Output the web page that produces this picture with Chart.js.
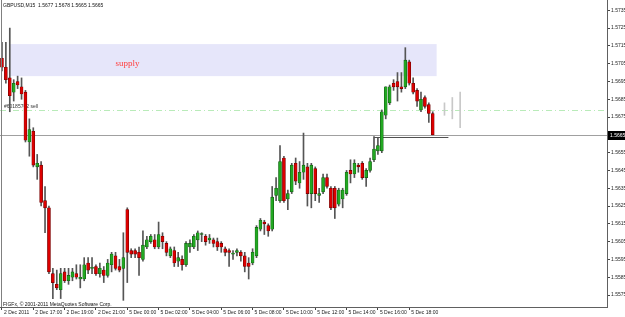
<!DOCTYPE html>
<html><head><meta charset="utf-8">
<script src="https://cdn.jsdelivr.net/npm/chart.js@4/dist/chart.umd.min.js"></script>
<style>html,body{margin:0;padding:0;background:#fff;overflow:hidden}canvas{display:block}</style>
</head><body>
<canvas id="c" width="625" height="317"></canvas>
<script>
// ---- data (GBPUSD M15) ----
const headerText = "GBPUSD,M15  1.5677 1.5678 1.5665 1.5665";
const footerText = "FIGFx, \u00a9 2001-2011 MetaQuotes Software Corp.";
const opens = [1.5708,1.5703,1.5697,1.5689,1.5695,1.5692,1.5689,1.5661,1.5667,1.5647,
1.5648,1.5628,1.5624,1.5587,1.5581,1.5578,1.5588,1.5583,1.5585,1.5587,
1.5584,1.5584,1.5593,1.5590,1.5591,1.5587,1.5589,1.5586,1.5592,1.5597,
1.5591,1.5590,1.5623,1.5600,1.5600,1.5599,1.5595,1.5602,1.5605,1.5606,
1.5602,1.5608,1.5604,1.5597,1.5600,1.5594,1.5595,1.5592,1.5602,1.5602,
1.5606,1.5609,1.5608,1.5606,1.5606,1.5605,1.5604,1.5601,1.5600,1.5598,
1.5599,1.5599,1.5597,1.5593,1.5593,1.5597,1.5612,1.5616,1.5614,1.5612,
1.5631,1.5628,1.5652,1.5629,1.5633,1.5649,1.5638,1.5644,1.5647,1.5632,
1.5646,1.5631,1.5633,1.5641,1.5635,1.5635,1.5626,1.5629,1.5632,1.5645,
1.5643,1.5648,1.5649,1.5641,1.5645,1.5651,1.5656,1.5656,1.5676,1.5683,
1.5694,1.5695,1.5692,1.5692,1.5706,1.5694,1.5690,1.5679,1.5686,1.5682,1.5677];
const highs = [1.5717,1.5717,1.5725,1.5696,1.5698,1.5697,1.5690,1.5674,1.5669,1.5654,
1.5650,1.5636,1.5625,1.5590,1.5589,1.5590,1.5590,1.5590,1.5590,1.5592,
1.5592,1.5596,1.5596,1.5596,1.5592,1.5593,1.5591,1.5595,1.5599,1.5599,
1.5595,1.5610,1.5624,1.5601,1.5601,1.5602,1.5611,1.5608,1.5609,1.5609,
1.5616,1.5610,1.5605,1.5602,1.5602,1.5599,1.5597,1.5605,1.5606,1.5609,
1.5611,1.5610,1.5609,1.5609,1.5607,1.5607,1.5605,1.5602,1.5601,1.5600,
1.5601,1.5600,1.5599,1.5596,1.5601,1.5614,1.5618,1.5617,1.5615,1.5636,
1.5641,1.5659,1.5653,1.5634,1.5649,1.5652,1.5650,1.5666,1.5649,1.5649,
1.5647,1.5635,1.5643,1.5643,1.5636,1.5636,1.5635,1.5635,1.5645,1.5651,
1.5651,1.5649,1.5650,1.5646,1.5652,1.5664,1.5663,1.5679,1.5692,1.5693,
1.5696,1.5700,1.5700,1.5714,1.5707,1.5697,1.5691,1.5689,1.5687,1.5683,1.5678];
const lows = [1.5701,1.5694,1.5678,1.5684,1.5691,1.5685,1.5661,1.5653,1.5647,1.5640,
1.5625,1.5610,1.5587,1.5573,1.5578,1.5573,1.5582,1.5581,1.5583,1.5584,
1.5579,1.5583,1.5587,1.5587,1.5586,1.5585,1.5582,1.5585,1.5588,1.5589,
1.5588,1.5572,1.5582,1.5596,1.5596,1.5586,1.5594,1.5601,1.5604,1.5601,
1.5601,1.5601,1.5597,1.5596,1.5591,1.5591,1.5589,1.5591,1.5599,1.5601,
1.5600,1.5605,1.5603,1.5604,1.5602,1.5600,1.5599,1.5597,1.5591,1.5595,
1.5597,1.5594,1.5588,1.5584,1.5592,1.5596,1.5611,1.5609,1.5608,1.5611,
1.5628,1.5627,1.5627,1.5623,1.5632,1.5637,1.5635,1.5640,1.5625,1.5624,
1.5628,1.5627,1.5632,1.5635,1.5623,1.5618,1.5625,1.5624,1.5631,1.5638,
1.5641,1.5644,1.5640,1.5636,1.5644,1.5650,1.5654,1.5655,1.5674,1.5682,
1.5690,1.5684,1.5689,1.5691,1.5693,1.5688,1.5681,1.5678,1.5680,1.5672,1.5665];
const closes = [1.5703,1.5696,1.5687,1.5694,1.5693,1.5688,1.5662,1.5668,1.5648,1.5649,
1.5627,1.5624,1.5588,1.5582,1.5579,1.5587,1.5583,1.5586,1.5588,1.5585,
1.5585,1.5592,1.5589,1.5590,1.5587,1.5590,1.5586,1.5593,1.5598,1.5590,
1.5589,1.5596,1.5599,1.5598,1.5598,1.5596,1.5603,1.5606,1.5608,1.5602,
1.5609,1.5605,1.5599,1.5601,1.5593,1.5596,1.5592,1.5604,1.5604,1.5608,
1.5610,1.5609,1.5605,1.5607,1.5604,1.5602,1.5602,1.5599,1.5599,1.5598,
1.5600,1.5597,1.5591,1.5591,1.5599,1.5613,1.5617,1.5615,1.5611,1.5630,
1.5635,1.5650,1.5628,1.5632,1.5648,1.5639,1.5644,1.5648,1.5632,1.5648,
1.5632,1.5632,1.5641,1.5636,1.5624,1.5624,1.5634,1.5634,1.5644,1.5643,
1.5649,1.5647,1.5641,1.5645,1.5650,1.5657,1.5659,1.5678,1.5692,1.5692,
1.5692,1.5692,1.5691,1.5707,1.5694,1.5689,1.5684,1.5685,1.5681,1.5677,1.5665];
// light grey marks to the right of the last bar
const extraBarIndex = [113, 115, 117];
const extraBarLow  = [1.5676, 1.5674, 1.5669];
const extraBarHigh = [1.5683, 1.5686, 1.5689];
// axis labels
const tickLabels = ["2 Dec 2011","2 Dec 17:00","2 Dec 19:00","2 Dec 21:00","5 Dec 00:00","5 Dec 02:00",
  "5 Dec 04:00","5 Dec 06:00","5 Dec 08:00","5 Dec 10:00","5 Dec 12:00","5 Dec 14:00","5 Dec 16:00","5 Dec 18:00"];
const tickBars = [0,8,16,24,32,40,48,56,64,72,80,88,96,104];
const priceTicks = [1.5735,1.5725,1.5715,1.5705,1.5695,1.5685,1.5675,1.5665,1.5655,1.5645,1.5635,1.5625,1.5615,1.5605,1.5595,1.5585,1.5575];
// drawn objects
const supplyZone = {from: 2, to: 111, low: 1.5698, high: 1.5716, label: "supply"};
const sellLevel = {price: 1.5679, label: "#60185762 sell"};
const bidPrice = 1.5665;
const demandLine = {from: 95, to: 114, price: 1.5664};
const totalSlots = 155;

// ---- build chart ----
const cats = Array.from({length: totalSlots}, (_, i) => i);
const pad = a => { const r = a.slice(); while (r.length < totalSlots) r.push(null); return r; };
const wickData = pad(highs.map((h, i) => [lows[i], h]));
const bodyData = pad(opens.map((o, i) => [o, closes[i]]));
const isUp = opens.map((o, i) => closes[i] >= o);
const bodyColors = pad(isUp.map(u => u ? '#22a822' : '#dc0000'));
const bodyBorders = pad(isUp.map(u => u ? '#125a12' : '#6a0000'));
const extraData = new Array(totalSlots).fill(null);
extraBarIndex.forEach((ix, k) => { extraData[ix] = [extraBarLow[k], extraBarHigh[k]]; });
const tickMap = {}; tickBars.forEach((b, k) => tickMap[b] = tickLabels[k]);

const overlay = {
  id: 'mt4overlay',
  beforeDatasetsDraw(chart) {
    const {ctx, chartArea: a, scales: {x, y}} = chart;
    ctx.save();
    const x0 = x.getPixelForValue(supplyZone.from), x1 = x.getPixelForValue(supplyZone.to);
    const y0 = y.getPixelForValue(supplyZone.high), y1 = y.getPixelForValue(supplyZone.low);
    ctx.fillStyle = '#e6e6fa';
    ctx.fillRect(x0, y0, x1 - x0, y1 - y0);
    const ys = Math.round(y.getPixelForValue(sellLevel.price)) + 0.5;
    ctx.strokeStyle = '#b9ebb9'; ctx.lineWidth = 1; ctx.setLineDash([6,3,1,3]);
    ctx.beginPath(); ctx.moveTo(a.left, ys); ctx.lineTo(a.right, ys); ctx.stroke();
    ctx.setLineDash([]);
    const yb = Math.round(y.getPixelForValue(bidPrice)) + 0.5;
    ctx.strokeStyle = '#a0a0a0';
    ctx.beginPath(); ctx.moveTo(a.left, yb); ctx.lineTo(a.right, yb); ctx.stroke();
    const yd = Math.round(y.getPixelForValue(demandLine.price)) + 0.5;
    ctx.strokeStyle = '#505050';
    ctx.beginPath(); ctx.moveTo(x.getPixelForValue(demandLine.from), yd); ctx.lineTo(x.getPixelForValue(demandLine.to), yd); ctx.stroke();
    ctx.fillStyle = '#333'; ctx.font = '5px "Liberation Sans"'; ctx.textBaseline = 'bottom';
    ctx.fillText(sellLevel.label, a.left + 4, ys - 1);
    ctx.restore();
  },
  afterDraw(chart) {
    const {ctx, chartArea: a, scales: {x, y}} = chart;
    ctx.save();
    ctx.strokeStyle = '#808080'; ctx.lineWidth = 1;
    ctx.beginPath(); ctx.moveTo(1.5, a.top); ctx.lineTo(1.5, a.bottom); ctx.stroke();
    ctx.fillStyle = '#ff4040'; ctx.font = '9px "Liberation Serif"'; ctx.textBaseline = 'middle';
    ctx.fillText(supplyZone.label, x.getPixelForValue(29), y.getPixelForValue(1.5705));
    ctx.fillStyle = '#111'; ctx.font = '5px "Liberation Sans"'; ctx.textBaseline = 'top';
    ctx.fillText(headerText, 3, 3);
    ctx.fillText(footerText, 3, 302);
    const yb = y.getPixelForValue(bidPrice);
    ctx.fillStyle = '#000'; ctx.fillRect(a.right + 1, Math.round(yb) - 4, 18, 9);
    ctx.fillStyle = '#fff'; ctx.textBaseline = 'middle';
    ctx.fillText(bidPrice.toFixed(4), a.right + 3, yb + 0.5);
    ctx.restore();
  }
};

new Chart(document.getElementById('c'), {
  type: 'bar',
  data: {
    labels: cats,
    datasets: [
      {label: 'body', data: bodyData, backgroundColor: bodyColors, borderColor: bodyBorders, borderWidth: 0.6, borderSkipped: false,
       barThickness: 3, grouped: false, order: 0, minBarLength: 1},
      {label: 'wick', data: wickData, backgroundColor: '#555555', barThickness: 1, grouped: false, order: 1},
      {label: 'extra', data: extraData, backgroundColor: '#c8c8c8', barThickness: 1, grouped: false, order: 2}
    ]
  },
  options: {
    responsive: false, animation: false, devicePixelRatio: 1,
    layout: {padding: 0},
    plugins: {legend: {display: false}, tooltip: {enabled: false}, title: {display: false}},
    scales: {
      x: {
        type: 'category', offset: true,
        afterFit: s => { s.height = 10; s.paddingLeft = 0; s.paddingRight = 0; },
        grid: {drawOnChartArea: false, offset: false, tickLength: 3, color: c => (c.tick && c.tick.label) ? '#444' : 'rgba(0,0,0,0)'},
        border: {color: '#606060'},
        ticks: {autoSkip: false, maxRotation: 0, minRotation: 0, align: 'start', padding: 0, labelOffset: 2,
          font: {family: 'Liberation Sans', size: 5}, color: '#222', callback: (v, i) => tickMap[i] || ''}
      },
      y: {
        position: 'right', min: 1.556826, max: 1.574079,
        afterBuildTicks: s => { s.ticks = priceTicks.map(v => ({value: v})); },
        afterFit: s => { s.width = 18; s.paddingTop = 0; s.paddingBottom = 0; },
        grid: {drawOnChartArea: false, tickLength: 3, color: '#444'},
        border: {color: '#606060'},
        ticks: {padding: 1, font: {family: 'Liberation Sans', size: 5}, color: '#222', callback: v => Number(v).toFixed(4)}
      }
    }
  },
  plugins: [overlay]
});
</script>
</body></html>
